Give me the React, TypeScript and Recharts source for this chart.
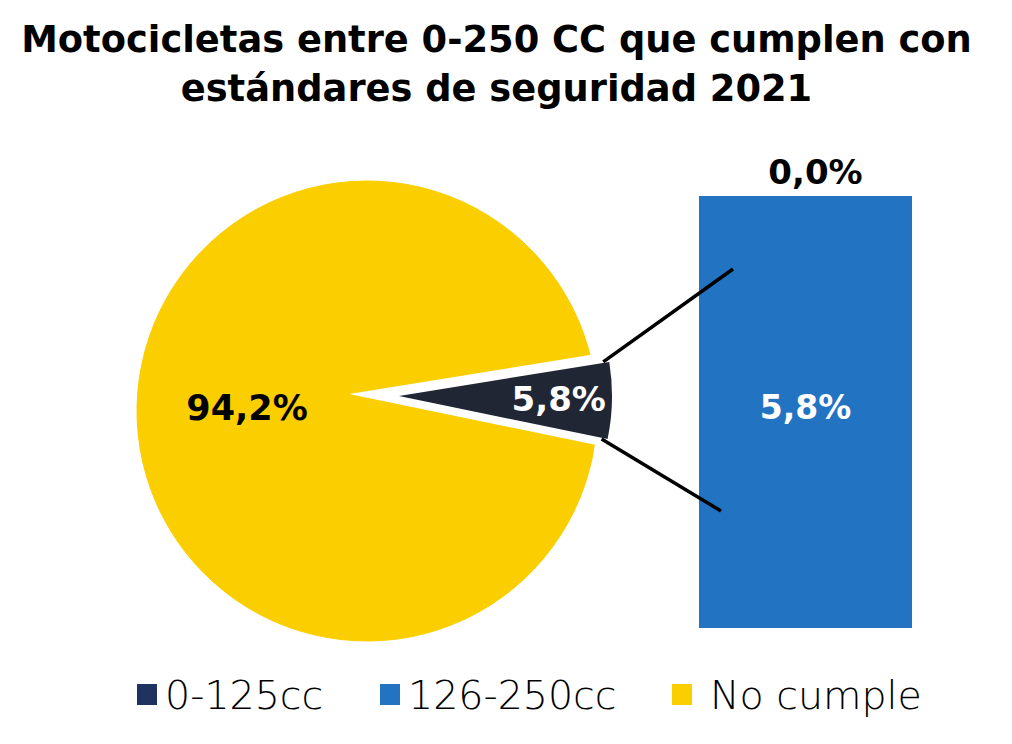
import { PieChart, Pie, Cell, BarChart, Bar, XAxis, YAxis, LabelList } from 'recharts';

// share of motorcycles 0-250cc: cumple vs no cumple
const pieNames = ['Cumple', 'No cumple'];
const pieValues = [5.8, 94.2];

// breakdown of the "cumple" slice
const barCategories = ['Cumple'];
const bar0125 = [0.0];
const bar126250 = [5.8];

const legendNames = ['0-125cc', '126-250cc', 'No cumple'];

const YELLOW = '#FBCE00';
const SLICE = '#212635';
const NAVY = '#1F3360';
const BLUE = '#2274C2';
const FONT = '"DejaVu Sans", sans-serif';
const RADIAN = Math.PI / 180;

const pieData = pieNames.map((name, i) => ({ name, value: pieValues[i] }));
const barData = barCategories.map((name, i) => ({
  name,
  '0-125cc': bar0125[i],
  '126-250cc': bar126250[i],
}));

const fmt = (v: number) => v.toFixed(1).replace('.', ',') + '%';

// pie geometry
const MAIN = { cx: 367, cy: 411, r: 230 };
const GAP = { cx: 349, cy: 394, r: 255 };
const SLICE_POS = { cx: 399, cy: 396, r: 213 };
const START = 9.2;

const sliceSweep = (pieValues[0] / pieValues.reduce((a, b) => a + b, 0)) * 360;

const yellowLabel = (p: any) => {
  if (p.index !== 1) return null;
  const r = 120;
  const x = p.cx + r * Math.cos(-p.midAngle * RADIAN);
  const y = p.cy + r * Math.sin(-p.midAngle * RADIAN);
  return (
    <text x={x} y={y} textAnchor="middle" dominantBaseline="central" fill="#000" fontSize={35} fontWeight={700} fontFamily={FONT}>
      {fmt(p.value)}
    </text>
  );
};

const sliceLabel = (p: any) => {
  if (p.index !== 0) return null;
  const r = p.outerRadius * 0.75;
  const x = p.cx + r * Math.cos(-p.midAngle * RADIAN);
  const y = p.cy + r * Math.sin(-p.midAngle * RADIAN);
  return (
    <text x={x} y={y} textAnchor="middle" dominantBaseline="central" fill="#fff" fontSize={34} fontWeight={700} fontFamily={FONT}>
      {fmt(p.value)}
    </text>
  );
};

function Connectors() {
  const a1 = START * RADIAN;
  const a2 = (START - sliceSweep) * RADIAN;
  const p1 = [SLICE_POS.cx + SLICE_POS.r * Math.cos(a1), SLICE_POS.cy - SLICE_POS.r * Math.sin(a1)];
  const p2 = [SLICE_POS.cx + SLICE_POS.r * Math.cos(a2), SLICE_POS.cy - SLICE_POS.r * Math.sin(a2)];
  return (
    <svg width={1012} height={744} style={{ position: 'absolute', left: 0, top: 0, pointerEvents: 'none' }}>
      <line x1={p1[0] - 6} y1={p1[1]} x2={733} y2={269} stroke="#000" strokeWidth={3.5} />
      <line x1={p2[0] - 6} y1={p2[1]} x2={721} y2={511} stroke="#000" strokeWidth={3.5} />
    </svg>
  );
}

const legendColors = [NAVY, BLUE, YELLOW];
const legendSquareX = [137, 380, 672];
const legendTextX = [165, 408, 710];

export default function App() {
  return (
    <div style={{ position: 'absolute', left: 0, top: 0, width: 1012, height: 744, background: '#fff', fontFamily: FONT }}>
      <div
        style={{
          position: 'absolute',
          left: 0,
          top: 15,
          width: 993,
          textAlign: 'center',
          fontSize: 36.8,
          lineHeight: '49px',
          fontWeight: 700,
          color: '#000',
          whiteSpace: 'nowrap',
        }}
      >
        Motocicletas entre 0-250 CC que cumplen con
        <br />
        estándares de seguridad 2021
      </div>

      <div style={{ position: 'absolute', left: 0, top: 0 }}>
        <PieChart width={1012} height={744} margin={{ top: 0, right: 0, bottom: 0, left: 0 }}>
          <Pie
            data={pieData}
            dataKey="value"
            cx={MAIN.cx}
            cy={MAIN.cy}
            outerRadius={MAIN.r}
            startAngle={START}
            endAngle={START - 360}
            stroke={YELLOW}
            strokeWidth={1}
            label={yellowLabel}
            labelLine={false}
            isAnimationActive={false}
          >
            {pieData.map((d, i) => (
              <Cell key={`y-${i}`} fill={YELLOW} stroke={YELLOW} />
            ))}
          </Pie>
          <Pie
            data={pieData}
            dataKey="value"
            cx={GAP.cx}
            cy={GAP.cy}
            outerRadius={GAP.r}
            startAngle={START}
            endAngle={START - 360}
            stroke="none"
            isAnimationActive={false}
          >
            {pieData.map((d, i) => (
              <Cell key={`g-${i}`} fill={i === 0 ? '#fff' : 'transparent'} />
            ))}
          </Pie>
          <Pie
            data={pieData}
            dataKey="value"
            cx={SLICE_POS.cx}
            cy={SLICE_POS.cy}
            outerRadius={SLICE_POS.r}
            startAngle={START}
            endAngle={START - 360}
            stroke="none"
            label={sliceLabel}
            labelLine={false}
            isAnimationActive={false}
          >
            {pieData.map((d, i) => (
              <Cell key={`s-${i}`} fill={i === 0 ? SLICE : 'transparent'} />
            ))}
          </Pie>
        </PieChart>
      </div>

      <div style={{ position: 'absolute', left: 699, top: 140 }}>
        <BarChart width={213} height={488} data={barData} margin={{ top: 56, right: 0, bottom: 0, left: 0 }} barCategoryGap={0}>
          <XAxis dataKey="name" hide />
          <YAxis hide domain={[0, 5.8]} />
          <Bar dataKey="126-250cc" stackId="s" fill={BLUE} isAnimationActive={false}>
            <LabelList dataKey="126-250cc" position="center" dy={-5} formatter={(v: any) => fmt(Number(v))} fill="#fff" fontSize={33} fontWeight={700} fontFamily={FONT} />
            <LabelList dataKey="0-125cc" position="top" offset={12} dx={10} formatter={(v: any) => fmt(Number(v))} fill="#000" fontSize={34} fontWeight={700} fontFamily={FONT} />
          </Bar>
          <Bar dataKey="0-125cc" stackId="s" fill={NAVY} isAnimationActive={false} />
        </BarChart>
      </div>

      <Connectors />

      {legendNames.map((name, i) => (
        <div key={name}>
          <div style={{ position: 'absolute', left: legendSquareX[i], top: 684, width: 20, height: 21, background: legendColors[i] }} />
          <div style={{ position: 'absolute', left: legendTextX[i], top: 672, fontSize: 39.5, lineHeight: '46px', fontWeight: 300, color: '#000', whiteSpace: 'nowrap' }}>
            {name}
          </div>
        </div>
      ))}
    </div>
  );
}
